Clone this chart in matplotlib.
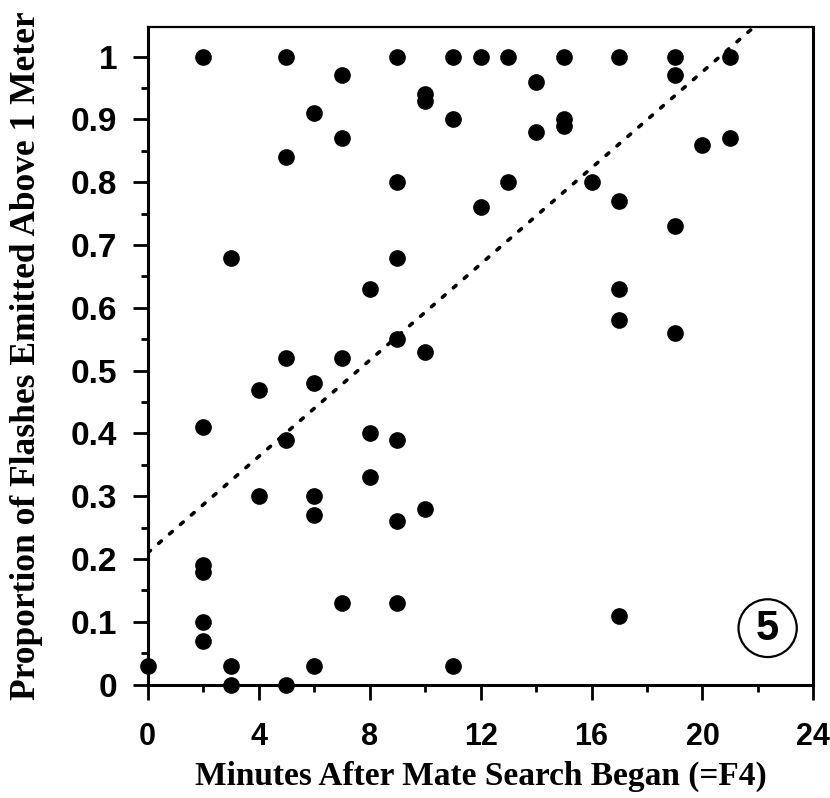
import matplotlib.pyplot as plt
from matplotlib.patches import Ellipse
from matplotlib.ticker import MultipleLocator

# minutes after mate search began, and proportion of flashes above 1 m
minutes = [0,
           2, 2, 2, 2, 2, 2,
           3, 3, 3,
           4, 4,
           5, 5, 5, 5, 5,
           6, 6, 6, 6, 6,
           7, 7, 7, 7,
           8, 8, 8,
           9, 9, 9, 9, 9, 9, 9,
           10, 10, 10, 10,
           11, 11, 11,
           12, 12,
           13, 13,
           14, 14,
           15, 15, 15,
           16,
           17, 17, 17, 17, 17,
           19, 19, 19, 19,
           20,
           21, 21]
proportion = [0.03,
              1.0, 0.41, 0.19, 0.18, 0.10, 0.07,
              0.68, 0.03, 0.0,
              0.47, 0.30,
              1.0, 0.84, 0.52, 0.39, 0.0,
              0.91, 0.48, 0.30, 0.27, 0.03,
              0.97, 0.87, 0.52, 0.13,
              0.63, 0.40, 0.33,
              1.0, 0.80, 0.68, 0.55, 0.39, 0.26, 0.13,
              0.94, 0.93, 0.53, 0.28,
              1.0, 0.90, 0.03,
              1.0, 0.76,
              1.0, 0.80,
              0.96, 0.88,
              1.0, 0.89, 0.90,
              0.80,
              1.0, 0.77, 0.63, 0.58, 0.11,
              1.0, 0.97, 0.73, 0.56,
              0.86,
              1.0, 0.87]

# fitted line
fit_x = [0, 24]
fit_intercept = 0.21
fit_slope = 0.0383
fit_y = [fit_intercept + fit_slope * v for v in fit_x]

fig = plt.figure(figsize=(8.3, 7.98), dpi=100)
ax = fig.add_axes([0.178, 0.142, 0.802, 0.824])

ax.plot(fit_x, fit_y, color='black', linestyle=(0, (1, 3)), linewidth=2.6,
        dash_capstyle='round')
ax.plot(minutes, proportion, 'o', color='black', markersize=11, clip_on=False, zorder=3)

ax.set_xlim(0, 24)
ax.set_ylim(0, 1.047)
ax.xaxis.set_major_locator(MultipleLocator(4))
ax.xaxis.set_minor_locator(MultipleLocator(2))
ax.yaxis.set_minor_locator(MultipleLocator(0.05))
ax.set_yticks([0, 0.1, 0.2, 0.3, 0.4, 0.5, 0.6, 0.7, 0.8, 0.9, 1.0])
ax.set_yticklabels(['0', '0.1', '0.2', '0.3', '0.4', '0.5', '0.6', '0.7', '0.8', '0.9', '1'])

ax.tick_params(which='major', direction='out', length=11, width=2)
ax.tick_params(axis='y', which='major', pad=11, labelsize=24)
ax.tick_params(axis='x', which='major', pad=16, labelsize=22)
ax.tick_params(which='minor', direction='out', length=5, width=2)
for lab in ax.get_xticklabels() + ax.get_yticklabels():
    lab.set_fontfamily('Liberation Sans')
    lab.set_fontweight('bold')

for side in ['left', 'bottom', 'right']:
    ax.spines[side].set_linewidth(2.2)
ax.spines['top'].set_linewidth(1.6)

ax.set_xlabel('Minutes After Mate Search Began (=F4)', fontfamily='Liberation Serif',
              fontweight='bold', fontsize=24, labelpad=6)
ax.set_ylabel('Proportion of Flashes Emitted Above 1 Meter', fontfamily='Liberation Serif',
              fontweight='bold', fontsize=25.5, labelpad=20)

# circled panel number
ax.add_patch(Ellipse((22.35, 0.09), 2.1, 0.092, fill=False, edgecolor='black', linewidth=1.6))
ax.text(22.35, 0.088, '5', ha='center', va='center', fontsize=30,
        fontfamily='Liberation Sans', fontweight='bold')

plt.savefig('out.png', dpi=100)
